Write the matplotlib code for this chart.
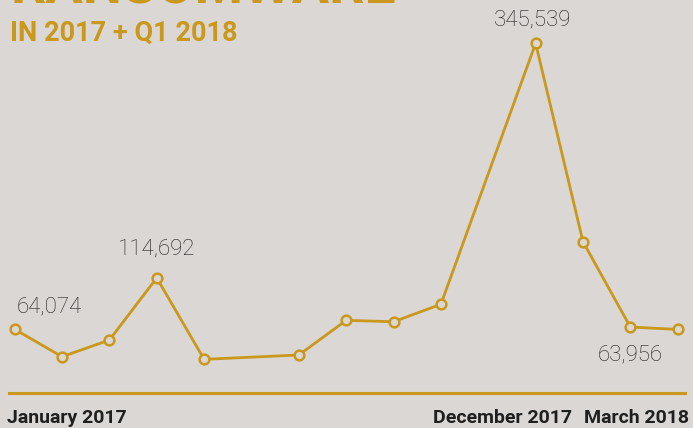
import matplotlib.pyplot as plt

# months since January 2017 (June and November 2017 have no point)
months = [0, 1, 2, 3, 4, 6, 7, 8, 9, 11, 12, 13, 14]
attacks = [64074, 37100, 53500, 114692, 34500, 38800, 72900, 71500, 88700,
           345539, 150300, 66300, 63956]
labelled = {0: '64,074', 3: '114,692', 9: '345,539', 11: '63,956'}
bottom_labels = ['January 2017', 'December 2017', 'March 2018']

gold = '#C9981C'
bg = '#DAD7D4'
ink = '#1F1F1F'

fig = plt.figure(figsize=(6.93, 4.28), dpi=100, facecolor=bg)
ax = fig.add_axes([0, 0, 1, 1])
ax.set_facecolor(bg)
ax.set_xlim(-0.310, 14.323)
ax.set_ylim(-33070, 388170)
ax.axis('off')

ax.plot(months, attacks, color=gold, lw=2.0, marker='o', ms=7,
        mfc=bg, mec=gold, mew=1.8, zorder=3)
ax.axhline(1700, xmin=0.013, xmax=0.988, color=gold, lw=2.2)

# value labels: index -> (offset in points, alignment)
offsets = {0: ((1.4, 16), 'left'), 3: ((0, 20.5), 'center'),
           9: ((-2.3, 16.5), 'center'), 11: ((0, -20), 'center')}
for i, txt in labelled.items():
    off, ha = offsets[i]
    ax.annotate(txt, (months[i], attacks[i]), xytext=off, textcoords='offset points',
                ha=ha, va='center', fontsize=16, color=ink,
                family='Roboto', weight='light')

fig.text(10 / 693, 1 - 3 / 428, 'RANSOMWARE', color=gold, fontsize=40,
         family='Roboto', weight='bold', va='baseline', ha='left')
fig.text(10 / 693, 1 - 41 / 428, 'IN 2017 + Q1 2018', color=gold, fontsize=19.5,
         family='Roboto', weight='bold', va='baseline', ha='left')

fig.text(7 / 693, 1 - 423 / 428, bottom_labels[0], color=ink, fontsize=14,
         family='Roboto', weight='bold', va='baseline', ha='left')
fig.text(572 / 693, 1 - 423 / 428, bottom_labels[1], color=ink, fontsize=14,
         family='Roboto', weight='bold', va='baseline', ha='right')
fig.text(689 / 693, 1 - 423 / 428, bottom_labels[2], color=ink, fontsize=14,
         family='Roboto', weight='bold', va='baseline', ha='right')

fig.savefig('out.png', dpi=100, facecolor=bg)
